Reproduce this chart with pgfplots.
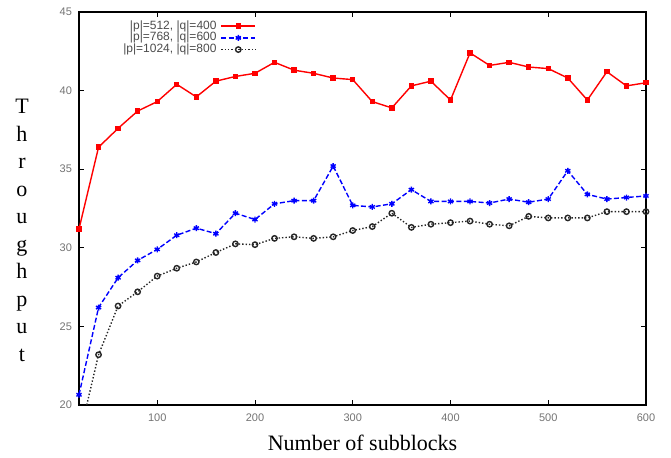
\documentclass[border=0pt]{standalone}
\usepackage{fontspec}
\setmainfont{Liberation Serif}
\newfontfamily\tickfont{Liberation Sans}
\usepackage{pgfplots}
\pgfplotsset{compat=1.18}

\begin{document}
\begin{tikzpicture}
\begin{axis}[
  width=283.5pt, height=196.5pt, scale only axis,
  xmin=20, xmax=600, ymin=20, ymax=45,
  xtick={100,200,...,600}, ytick={20,25,...,45},
  tick align=inside, major tick length=2.5pt,
  axis line style={line width=1pt},
  tick style={black, line width=0.4pt},
  /pgf/number format/assume math mode=true,
  ticklabel style={font=\tickfont\fontsize{5.5}{6}\selectfont, text=black!55},
  xticklabel style={yshift=-1pt},
  xlabel={Number of subblocks},
  xlabel style={font=\fontsize{11}{13}\selectfont, at={(rel axis cs:0.5,0)}, anchor=center, yshift=-19pt},
  ylabel={T\\h\\r\\o\\u\\g\\h\\p\\u\\t},
  ylabel style={font=\fontsize{11}{13.75}\selectfont, align=center, rotate=-90,
    at={(rel axis cs:0,0.5)}, anchor=center, xshift=-28.5pt, yshift=-11pt},
  legend plot pos=right,
  legend cell align=right,
  legend style={at={(rel axis cs:0.313,0.99)}, anchor=north east, draw=none, fill=none,
    font=\tickfont\fontsize{6}{6}\selectfont, text=black!70, inner sep=0pt,
    row sep=-4pt},
]
\addplot[red, line width=0.7pt, mark=square*, mark size=1pt] coordinates {
(20,31.2)(40,36.4)(60,37.6)(80,38.7)(100,39.3)(120,40.4)(140,39.6)(160,40.6)(180,40.9)(200,41.1)
(220,41.8)(240,41.3)(260,41.1)(280,40.8)(300,40.7)(320,39.3)(340,38.9)(360,40.3)(380,40.6)(400,39.4)
(420,42.4)(440,41.6)(460,41.8)(480,41.5)(500,41.4)(520,40.8)(540,39.4)(560,41.2)(580,40.3)(600,40.5)
};
\addlegendentry{|p|=512, |q|=400}
\addplot[blue, line width=0.7pt, dash pattern=on 2.5pt off 1.2pt, mark=asterisk, mark size=1.5pt,
  mark options={solid}] coordinates {
(20,20.65)(40,26.2)(60,28.1)(80,29.2)(100,29.9)(120,30.8)(140,31.25)(160,30.9)(180,32.2)(200,31.8)
(220,32.8)(240,33.0)(260,33.0)(280,35.2)(300,32.7)(320,32.6)(340,32.8)(360,33.7)(380,32.95)(400,32.95)
(420,32.95)(440,32.85)(460,33.1)(480,32.9)(500,33.1)(520,34.9)(540,33.4)(560,33.1)(580,33.2)(600,33.3)
};
\addlegendentry{|p|=768, |q|=600}
\addplot[black!85, line width=0.7pt, densely dotted, mark=o, mark size=1.35pt,
  mark options={solid}] coordinates {
(20,17.9)(40,23.2)(60,26.3)(80,27.2)(100,28.2)(120,28.7)(140,29.1)(160,29.7)(180,30.25)(200,30.2)
(220,30.6)(240,30.7)(260,30.6)(280,30.7)(300,31.1)(320,31.35)(340,32.2)(360,31.3)(380,31.5)(400,31.6)
(420,31.7)(440,31.5)(460,31.4)(480,32.0)(500,31.9)(520,31.9)(540,31.9)(560,32.3)(580,32.3)(600,32.3)
};
\addlegendentry{|p|=1024, |q|=800}
\end{axis}
\pgfresetboundingbox
\path (current axis.south west) +(-39.5pt,-26pt) (current axis.north east) +(12.5pt,6pt);
\end{tikzpicture}
\end{document}
